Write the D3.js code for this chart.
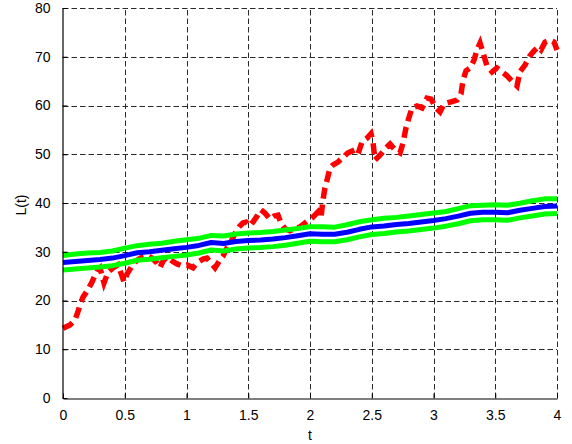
<!DOCTYPE html>
<html>
<head>
<meta charset="utf-8">
<script src="https://cdn.jsdelivr.net/npm/d3@7"></script>
<style>
html,body{margin:0;padding:0;background:#fff;}
svg{display:block;font-family:"Liberation Sans",Arial,Helvetica,sans-serif;}
</style>
</head>
<body>
<svg id="chart" width="572" height="444"></svg>
<script>
// ---- data ----
const tGrid = d3.range(0, 41).map(i => i / 10);
const blueL = [27.8,28.0,28.2,28.4,28.7,29.2,29.8,30.0,30.3,30.6,30.9,31.3,31.9,31.7,32.1,32.3,32.4,32.6,32.9,33.3,33.7,33.6,33.6,34.0,34.6,35.1,35.3,35.6,35.8,36.1,36.4,36.8,37.3,37.9,38.1,38.1,38.0,38.5,38.9,39.3,39.4];
const greenUpper = [29.25,29.55,29.75,29.85,30.15,30.75,31.25,31.55,31.75,32.15,32.45,32.75,33.35,33.25,33.65,33.85,33.95,34.15,34.45,34.75,35.15,35.15,35.05,35.55,36.15,36.55,36.85,37.05,37.35,37.65,37.95,38.25,38.85,39.45,39.55,39.65,39.55,39.95,40.45,40.85,40.85];
const greenLower = [26.25,26.45,26.65,26.85,27.15,27.65,28.25,28.45,28.75,29.05,29.35,29.75,30.35,30.15,30.55,30.75,30.85,31.05,31.35,31.75,32.15,32.05,32.05,32.45,33.05,33.55,33.75,34.05,34.25,34.55,34.85,35.25,35.75,36.35,36.55,36.55,36.45,36.95,37.35,37.75,37.85];
const redT = [0,0.057,0.097,0.12,0.138,0.162,0.202,0.235,0.259,0.283,0.30,0.332,0.364,0.405,0.445,0.478,0.494,0.518,0.559,0.60,0.64,0.68,0.72,0.761,0.785,0.81,0.842,0.883,0.923,0.964,1.004,1.053,1.085,1.134,1.166,1.206,1.231,1.271,1.296,1.328,1.36,1.393,1.425,1.457,1.482,1.514,1.538,1.571,1.603,1.636,1.676,1.709,1.741,1.765,1.798,1.838,1.879,1.919,1.96,1.992,2.024,2.065,2.089,2.105,2.121,2.138,2.162,2.186,2.227,2.267,2.308,2.364,2.389,2.421,2.462,2.494,2.51,2.526,2.567,2.615,2.648,2.688,2.729,2.753,2.777,2.802,2.826,2.866,2.907,2.947,2.98,3.02,3.053,3.085,3.134,3.19,3.223,3.239,3.263,3.296,3.328,3.352,3.377,3.401,3.433,3.474,3.514,3.555,3.595,3.636,3.676,3.70,3.741,3.781,3.814,3.846,3.87,3.903,3.943,3.976,4.0];
const redL = [14.3,15.0,16.0,17.6,19.1,20.7,22.2,23.8,25.2,26.3,26.7,23.6,25.8,26.7,27.3,25.0,23.8,25.4,27.1,28.3,28.9,29.3,28.7,27.7,26.7,28.1,28.9,28.1,27.5,27.1,27.3,26.7,27.7,28.5,28.7,27.5,26.7,28.3,29.1,30.8,32.0,33.8,35.1,35.9,36.1,35.3,36.1,37.3,38.6,37.9,36.7,37.3,37.5,35.9,34.7,34.3,34.7,35.1,35.9,36.5,37.1,38.2,37.1,40.6,43.1,44.7,47.2,47.8,48.4,49.4,50.3,50.9,50.1,52.5,53.3,54.2,52.5,48.8,49.8,51.3,52.1,50.9,50.3,52.3,55.4,57.6,59.5,59.9,59.5,61.5,61.3,59.5,58.7,60.3,60.7,61.1,62.4,65.2,67.1,67.7,69.3,71.4,72.8,70.8,68.1,66.9,67.7,66.9,66.1,65.0,64.0,66.9,68.3,70.2,71.2,72.0,71.4,73.0,73.4,73.0,71.4];
const xTicks = [0,0.5,1,1.5,2,2.5,3,3.5,4];
const xTickLabels = ["0","0.5","1","1.5","2","2.5","3","3.5","4"];
const yTicks = [0,10,20,30,40,50,60,70,80];
const yTickLabels = ["0","10","20","30","40","50","60","70","80"];

// ---- layout ----
const svg = d3.select("#chart");
const pL = 63, pR = 557, pT = 8, pB = 398;
const x = d3.scaleLinear().domain([0,4]).range([pL,pR]);
const y = d3.scaleLinear().domain([0,80]).range([pB,pT]);

// grid
const grid = svg.append("g").attr("stroke","#2a2a2a").attr("stroke-width",1).attr("stroke-dasharray","5.5,3").attr("fill","none");
xTicks.forEach(v => { if (v > 0) grid.append("line").attr("x1",Math.round(x(v))+0.5).attr("x2",Math.round(x(v))+0.5).attr("y1",pB).attr("y2",pT); });
yTicks.forEach(v => { if (v > 0) grid.append("line").attr("y1",Math.round(y(v))+0.5).attr("y2",Math.round(y(v))+0.5).attr("x1",pL).attr("x2",pR); });

// series
const line = d3.line().x(d => x(d[0])).y(d => y(d[1]));
const redPts = redT.map((t,i) => [t, redL[i]]);
svg.append("path").datum(redPts).attr("d", line).attr("fill","none")
  .attr("stroke","#ff0000").attr("stroke-width",5.5).attr("stroke-dasharray","11,6");
svg.append("path").datum(tGrid.map((t,i)=>[t,blueL[i]])).attr("d", line).attr("fill","none")
  .attr("stroke","#0000ff").attr("stroke-width",5).attr("stroke-linejoin","round");
svg.append("path").datum(tGrid.map((t,i)=>[t,greenUpper[i]])).attr("d", line).attr("fill","none")
  .attr("stroke","#00ff00").attr("stroke-width",5).attr("stroke-linejoin","round");
svg.append("path").datum(tGrid.map((t,i)=>[t,greenLower[i]])).attr("d", line).attr("fill","none")
  .attr("stroke","#00ff00").attr("stroke-width",5).attr("stroke-linejoin","round");

// axes
const xAxis = d3.axisBottom(x).tickValues(xTicks).tickFormat((d,i)=>xTickLabels[i]).tickSizeInner(-5).tickSizeOuter(0).tickPadding(12);
const yAxis = d3.axisLeft(y).tickValues(yTicks).tickFormat((d,i)=>yTickLabels[i]).tickSizeInner(-5).tickSizeOuter(0).tickPadding(12);
const gx = svg.append("g").attr("transform",`translate(0,${pB+0.5})`).call(xAxis);
const gy = svg.append("g").attr("transform",`translate(${pL-0.5},0)`).call(yAxis);
[gx,gy].forEach(g => {
  g.selectAll("path").attr("stroke","#000").attr("stroke-width",1.2);
  g.selectAll("line").attr("stroke","#000");
  g.selectAll("text").attr("fill","#000").style("font-size","14px").style("font-family","'Liberation Sans',Arial,sans-serif");
});

// labels
svg.append("text").attr("x", (pL+pR)/2).attr("y", 440).attr("text-anchor","middle")
  .style("font-size","14px").text("t");
svg.append("text").attr("transform",`translate(26,205) rotate(-90)`).attr("text-anchor","middle")
  .style("font-size","14px").text("L(t)");
</script>
</body>
</html>
